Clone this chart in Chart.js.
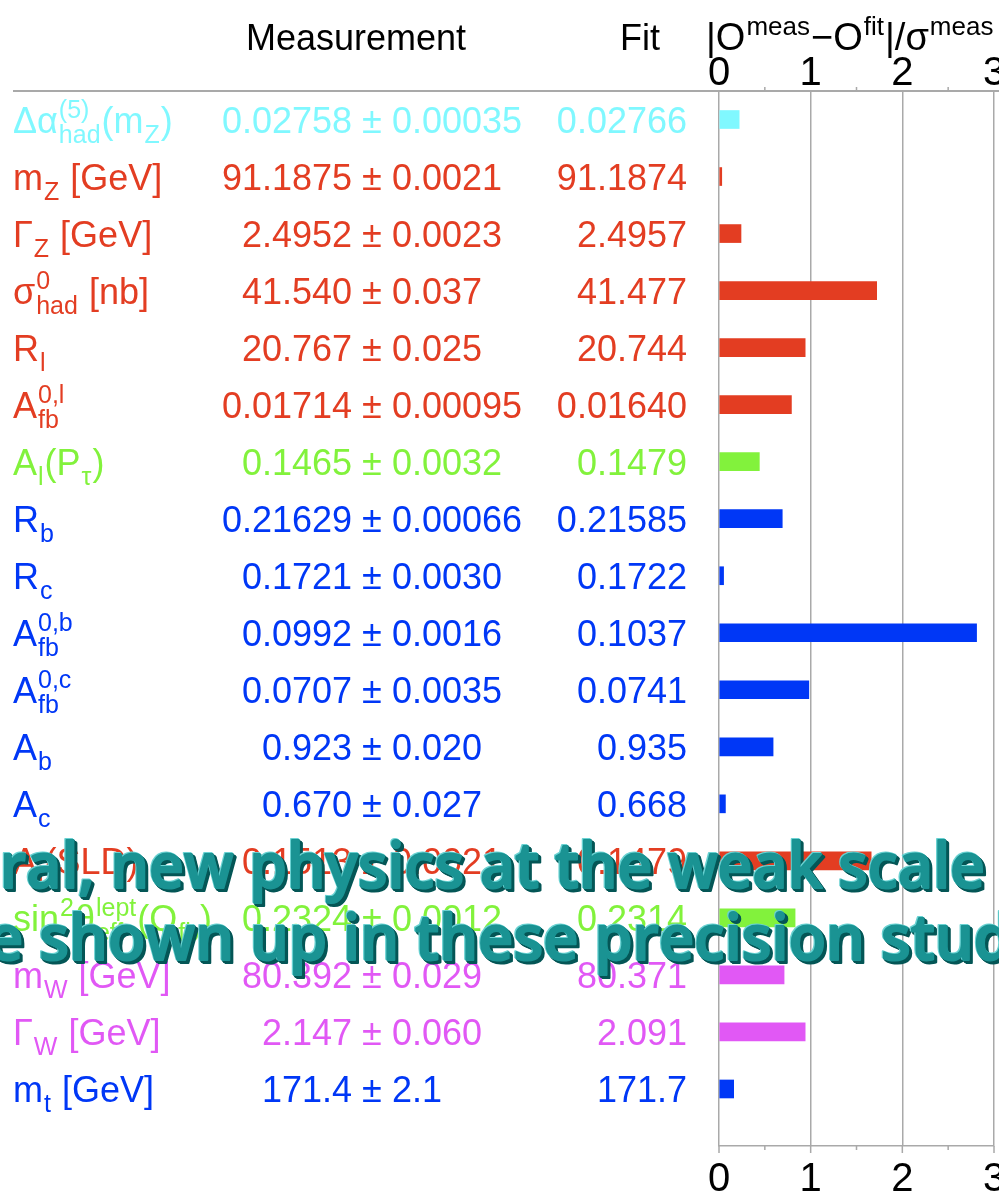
<!DOCTYPE html>
<html>
<head>
<meta charset="utf-8">
<script src="https://cdn.jsdelivr.net/npm/chart.js@4.4.0/dist/chart.umd.min.js"></script>
<style>
    html, body { margin: 0; padding: 0; background: #fff; }
    #wrap { width: 999px; height: 1203px; position: relative; overflow: hidden; }
</style>
</head>
<body>
<div id="wrap"><canvas id="chart" width="999" height="1203"></canvas></div>
<script>
// Observable names: plain strings, {sub}, {sup} or stacked {sup, sub}
const names = [
    ['Δα', {sup: '(5)', sub: 'had'}, '(m', {sub: 'Z'}, ')'],
    ['m', {sub: 'Z'}, ' [GeV]'],
    ['Γ', {sub: 'Z'}, ' [GeV]'],
    ['σ', {sup: '0', sub: 'had'}, ' [nb]'],
    ['R', {sub: 'l'}],
    ['A', {sup: '0,l', sub: 'fb'}],
    ['A', {sub: 'l'}, '(P', {sub: 'τ'}, ')'],
    ['R', {sub: 'b'}],
    ['R', {sub: 'c'}],
    ['A', {sup: '0,b', sub: 'fb'}],
    ['A', {sup: '0,c', sub: 'fb'}],
    ['A', {sub: 'b'}],
    ['A', {sub: 'c'}],
    ['A', {sub: 'l'}, '(SLD)'],
    ['sin', {sup: '2'}, 'θ', {sup: 'lept', sub: 'eff'}, '(Q', {sub: 'fb'}, ')'],
    ['m', {sub: 'W'}, ' [GeV]'],
    ['Γ', {sub: 'W'}, ' [GeV]'],
    ['m', {sub: 't'}, ' [GeV]']
];
const measured = ['0.02758', '91.1875', '2.4952', '41.540', '20.767', '0.01714', '0.1465', '0.21629', '0.1721',
    '0.0992', '0.0707', '0.923', '0.670', '0.1513', '0.2324', '80.392', '2.147', '171.4'];
const errors = ['0.00035', '0.0021', '0.0023', '0.037', '0.025', '0.00095', '0.0032', '0.00066', '0.0030',
    '0.0016', '0.0035', '0.020', '0.027', '0.0021', '0.0012', '0.029', '0.060', '2.1'];
const fitted = ['0.02766', '91.1874', '2.4957', '41.477', '20.744', '0.01640', '0.1479', '0.21585', '0.1722',
    '0.1037', '0.0741', '0.935', '0.668', '0.1479', '0.2314', '80.371', '2.091', '171.7'];
const pulls = [0.22, 0.03, 0.24, 1.72, 0.94, 0.79, 0.44, 0.69, 0.05, 2.81, 0.98, 0.59, 0.07, 1.66, 0.83, 0.71, 0.94, 0.16];
const groups = ['cyan', 'red', 'red', 'red', 'red', 'red', 'green', 'blue', 'blue', 'blue', 'blue', 'blue', 'blue',
    'red', 'green', 'magenta', 'magenta', 'blue'];
const headerPull = ['|O', {sup: 'meas'}, '−O', {sup: 'fit'}, '|/σ', {sup: 'meas'}];
const overlayLines = ['ral, new physics at the weak scale', 'e shown up in these precision stud'];

const palette = {
    cyan: '#80f8ff',
    red: '#e33d22',
    green: '#82f23c',
    blue: '#0037f6',
    magenta: '#e158f5'
};

const FONT = 'Helvetica, "Liberation Sans", Arial, sans-serif';
const MAIN_FONT = '36px ' + FONT;
const SCRIPT_FONT = '25px ' + FONT;
const GRID_COLOR = '#a9a9a9';

/**
 * Draw a label made of plain text and sub/superscripts
 */
function drawRich(ctx, parts, x, y, color, mainFont, scriptFont) {
    mainFont = mainFont || MAIN_FONT;
    scriptFont = scriptFont || SCRIPT_FONT;
    ctx.fillStyle = color;
    ctx.textAlign = 'left';
    ctx.textBaseline = 'alphabetic';
    parts.forEach(p => {
        if (typeof p === 'string') {
            ctx.font = mainFont;
            ctx.fillText(p, x, y);
            x += ctx.measureText(p).width;
        } else {
            ctx.font = scriptFont;
            let w = 0;
            if (p.sup) {
                ctx.fillText(p.sup, x + 1, y - 15);
                w = Math.max(w, ctx.measureText(p.sup).width);
            }
            if (p.sub) {
                ctx.fillText(p.sub, x + 1, y + 10);
                w = Math.max(w, ctx.measureText(p.sub).width);
            }
            x += w + 2;
        }
    });
}

/**
 * Table text, header, separator and minor ticks around the pull bars
 */
const tablePlugin = {
    id: 'tablePlugin',
    afterDraw: function(chart) {
        const ctx = chart.ctx;
        const xs = chart.scales.x;
        const ys = chart.scales.y;
        const area = chart.chartArea;
        ctx.save();

        // separator under the header
        ctx.strokeStyle = GRID_COLOR;
        ctx.lineWidth = 2;
        ctx.beginPath();
        ctx.moveTo(13, area.top);
        ctx.lineTo(chart.width, area.top);
        ctx.stroke();

        // small tick marks on both axis lines
        ctx.lineWidth = 1.5;
        for (let v = 0; v <= 3; v += 0.5) {
            const px = xs.getPixelForValue(v);
            const major = Number.isInteger(v);
            ctx.beginPath();
            ctx.moveTo(px, area.bottom);
            ctx.lineTo(px, area.bottom + (major ? 7 : 4));
            if (!major) {
                ctx.moveTo(px, area.top);
                ctx.lineTo(px, area.top - 4);
            }
            ctx.stroke();
        }

        // header
        ctx.fillStyle = '#000';
        ctx.font = MAIN_FONT;
        ctx.textBaseline = 'alphabetic';
        ctx.textAlign = 'center';
        ctx.fillText('Measurement', 356, 50);
        ctx.textAlign = 'right';
        ctx.fillText('Fit', 660, 50);
        drawRich(ctx, headerPull, 706, 50, '#000', '38px ' + FONT, '26px ' + FONT);

        // rows
        const pmX = 372;
        names.forEach((parts, i) => {
            const color = palette[groups[i]];
            const base = ys.getPixelForValue(i) + 13;
            drawRich(ctx, parts, 13, base, color);

            ctx.font = MAIN_FONT;
            ctx.fillStyle = color;
            ctx.textAlign = 'left';
            const lead = ctx.measureText(measured[i] + ' ').width + ctx.measureText('±').width / 2;
            ctx.fillText(measured[i] + ' ± ' + errors[i], pmX - lead, base);

            ctx.textAlign = 'right';
            ctx.fillText(fitted[i], 687, base);
        });

        // embossed slide text laid over the chart
        const lines = [
            {text: overlayLines[0], x0: 0, x1: 985, base: 888},
            {text: overlayLines[1], x0: -12, x1: 1012, base: 960}
        ];
        ctx.font = '600 64px "Comic Sans MS", "Open Sans", "DejaVu Sans", sans-serif';
        ctx.textAlign = 'left';
        ctx.lineJoin = 'round';
        ctx.lineCap = 'round';
        lines.forEach(line => {
            const w = ctx.measureText(line.text).width;
            ctx.save();
            ctx.translate(line.x0, line.base);
            ctx.scale((line.x1 - line.x0) / w, 1);
            const paint = (color, dx, dy) => {
                ctx.fillStyle = color;
                ctx.strokeStyle = color;
                ctx.lineWidth = 2;
                ctx.strokeText(line.text, dx, dy);
                ctx.fillText(line.text, dx, dy);
            };
            for (let k = 1; k <= 4; k++) {
                paint('#045656', k * 0.8, k * 0.8);
            }
            paint('#6ad2d2', -1.2, -1.2);
            paint('#1a9393', 0, 0);
            ctx.restore();
        });

        ctx.restore();
    }
};

const tickOptions = {
    stepSize: 0.5,
    autoSkip: false,
    maxRotation: 0,
    color: '#000',
    font: { size: 40, family: FONT, lineHeight: 1 },
    callback: function(value) {
        return Number.isInteger(value) ? String(value) : '';
    }
};

const ctx = document.getElementById('chart').getContext('2d');
new Chart(ctx, {
    type: 'bar',
    data: {
        datasets: [{
            data: pulls.map((p, i) => ({ x: p, y: i })),
            backgroundColor: groups.map(g => palette[g]),
            borderWidth: 0,
            barThickness: 18
        }]
    },
    options: {
        responsive: false,
        animation: false,
        indexAxis: 'y',
        layout: { padding: { left: 719, right: 5, top: 51, bottom: 7 } },
        plugins: {
            legend: { display: false },
            tooltip: { enabled: false }
        },
        scales: {
            y: {
                type: 'linear',
                reverse: true,
                offset: false,
                min: -0.5,
                max: 18,
                ticks: { stepSize: 1 },
                display: false
            },
            x: {
                type: 'linear',
                position: 'bottom',
                min: 0,
                max: 3,
                ticks: Object.assign({}, tickOptions, { padding: 14 }),
                grid: {
                    color: c => (c.tick && Number.isInteger(c.tick.value)) ? GRID_COLOR : 'rgba(0,0,0,0)',
                    lineWidth: 1.5,
                    drawTicks: false
                },
                border: { color: GRID_COLOR, width: 1.5 },
                afterFit: function(s) {
                    s.height = 50;
                    s.paddingLeft = 0;
                    s.paddingRight = 0;
                }
            },
            xTop: {
                type: 'linear',
                position: 'top',
                min: 0,
                max: 3,
                ticks: Object.assign({}, tickOptions, { padding: -3 }),
                grid: { display: false, drawTicks: false },
                border: { display: false },
                afterFit: function(s) {
                    s.height = 40;
                    s.paddingLeft = 0;
                    s.paddingRight = 0;
                }
            }
        }
    },
    plugins: [tablePlugin]
});
</script>
</body>
</html>
